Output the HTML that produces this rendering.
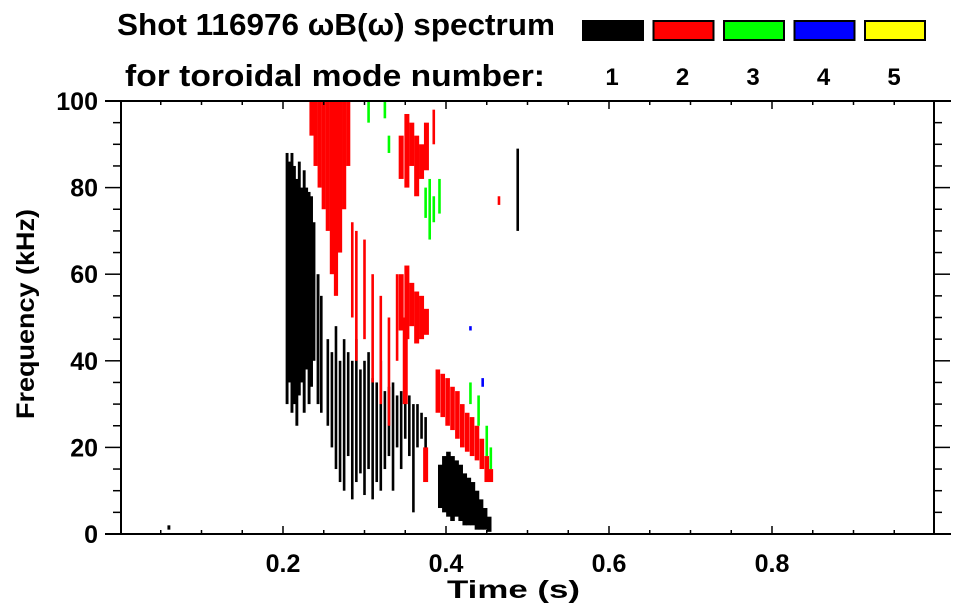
<!DOCTYPE html>
<html><head><meta charset="utf-8">
<style>
html,body{margin:0;padding:0;background:#fff;}
svg{display:block;font-family:"Liberation Sans",Arial,sans-serif;font-weight:bold;}
</style></head>
<body>
<svg id="chart" width="963" height="615" viewBox="0 0 963 615">
  <text x="117" y="35" font-size="31" textLength="438" lengthAdjust="spacingAndGlyphs">Shot 116976 ωB(ω) spectrum</text>
  <text x="125" y="86" font-size="31" textLength="420" lengthAdjust="spacingAndGlyphs">for toroidal mode number:</text>
  <g id="legend"></g>
  <g id="marks"></g>
  <g id="axes"></g>
  <text x="447" y="598" font-size="25" textLength="133" lengthAdjust="spacingAndGlyphs">Time (s)</text>
  <text transform="translate(34,419) rotate(-90)" font-size="25" textLength="210" lengthAdjust="spacingAndGlyphs">Frequency (kHz)</text>
</svg>
<script>
const modeColors = ["#000000","#ff0000","#00ff00","#0000ff","#ffff00"];
const modeLabels = ["1","2","3","4","5"];
const xTickLabels = ["0.2","0.4","0.6","0.8"];
const xTickValues = [0.2,0.4,0.6,0.8];
const yTickValues = [0,20,40,60,80,100];
// streaks: time (s), frequency low (kHz), frequency high (kHz), mode index
const streakTimes = [
0.205,0.208,0.211,0.214,0.217,0.220,0.223,0.226,0.229,0.232,0.235,0.238,0.243,0.247,
0.255,0.260,0.265,0.270,0.275,0.280,0.285,0.290,0.295,0.300,0.305,0.310,0.315,0.320,0.325,0.330,0.335,0.340,0.345,0.350,0.355,0.360,0.365,0.370,0.375,
0.393,0.398,0.403,0.408,0.413,0.418,0.423,0.428,0.433,0.438,0.443,0.448,0.453,
0.488,0.060,
0.235,0.240,0.245,0.250,0.255,0.260,0.265,0.270,0.275,0.280,
0.285,0.290,0.300,0.310,0.320,0.330,0.340,0.350,
0.345,0.352,0.358,0.364,0.370,0.376,0.385,
0.345,0.352,0.358,0.364,0.370,0.376,
0.390,0.396,0.402,0.408,0.414,0.420,0.426,0.432,0.438,0.444,0.450,0.455,0.375,0.465,
0.305,0.325,0.330,0.375,0.380,0.385,0.392,0.430,0.440,0.450,0.455,
0.430,0.445];
const streakLow = [
30,35,28,30,25,32,35,28,38,30,34,40,30,28,
25,20,15,12,10,18,8,12,14,9,15,8,12,10,15,18,10,20,15,22,18,5,20,22,19,
6,5,4,3,4,3,2,2,2,1,1,1,0.5,
70,1,
92,85,80,75,70,60,55,65,75,85,
50,40,45,35,30,25,40,30,
82,80,85,78,82,84,90,
47,45,48,44,45,46,
28,27,25,24,22,20,19,18,17,15,12,12,12,76,
95,96,88,73,68,72,74,30,25,18,15,
47,34];
const streakHigh = [
88,86,88,85,82,86,80,84,80,79,78,72,60,55,
45,42,48,40,45,42,40,45,38,40,42,36,35,40,33,34,35,32,33,35,32,30,30,28,27,
16,18,19,18,17,16,14,13,12,10,8,6,4,
89,2,
100,100,100,100,100,100,100,100,100,100,
72,70,68,60,55,50,60,50,
92,97,95,92,90,95,98,
60,62,58,56,55,52,
38,37,36,34,33,30,28,27,25,22,18,15,20,78,
100,100,92,80,82,78,82,35,32,25,20,
48,36];
const streakMode = [
0,0,0,0,0,0,0,0,0,0,0,0,0,0,
0,0,0,0,0,0,0,0,0,0,0,0,0,0,0,0,0,0,0,0,0,0,0,0,0,
0,0,0,0,0,0,0,0,0,0,0,0,0,
0,0,
1,1,1,1,1,1,1,1,1,1,
1,1,1,1,1,1,1,1,
1,1,1,1,1,1,1,
1,1,1,1,1,1,
1,1,1,1,1,1,1,1,1,1,1,1,1,1,
2,2,2,2,2,2,2,2,2,2,2,
3,3];

const NS="http://www.w3.org/2000/svg";
const L=121,R=934,T=101,B=534;
const xScale=t=>120+t*815;
const yScale=f=>B-(f/100)*(B-T);
function mk(tag,attrs,parent){const e=document.createElementNS(NS,tag);for(const k in attrs)e.setAttribute(k,attrs[k]);parent.appendChild(e);return e;}

// legend
const lg=document.getElementById('legend');
modeColors.forEach((c,i)=>{
  const x=582+i*70.5;
  const r=mk('rect',{x:x+1,y:21,width:60,height:19,fill:c,stroke:'#000','stroke-width':2},lg);
  
  
  const t=mk('text',{x:x+30,y:85,'font-size':24,'text-anchor':'middle'},lg);
  t.textContent=modeLabels[i];
  
  
});

// marks
const mg=document.getElementById('marks');
for(let i=0;i<streakTimes.length;i++){
  const x=xScale(streakTimes[i]);
  const y1=yScale(streakHigh[i]),y2=yScale(streakLow[i]);
  const t=streakTimes[i],m=streakMode[i];
  let w=2.6;
  if(m<2&&t>=0.39&&t<=0.46) w=4.6;
  else if(m===0&&t<0.245) w=2.9;
  else if(m===1&&t<0.285) w=4.2;
  else if(m===1&&t>=0.345&&t<0.38) w=5;
  const r=mk('rect',{x:x-w/2,y:y1,width:w,height:Math.max(1,y2-y1),fill:modeColors[m]},mg);
  
  
}

// axes
const ag=document.getElementById('axes');
const lineAttrs={stroke:'#000','stroke-width':2};
mk('line',Object.assign({x1:105,y1:T,x2:951,y2:T},lineAttrs),ag);
mk('line',Object.assign({x1:105,y1:B,x2:951,y2:B},lineAttrs),ag);
mk('line',Object.assign({x1:L,y1:T,x2:L,y2:B},lineAttrs),ag);
mk('line',Object.assign({x1:R,y1:T,x2:R,y2:B},lineAttrs),ag);
for(let k=1;k<20;k++){
  const t=k*0.05,x=xScale(t),maj=(k%4===0);
  mk('line',{x1:x,y1:B,x2:x,y2:B-(maj?8:4),stroke:'#000','stroke-width':1.5},ag);
  mk('line',{x1:x,y1:T,x2:x,y2:T+(maj?8:4),stroke:'#000','stroke-width':1.5},ag);
}
for(let k=1;k<20;k++){
  const f=k*5,y=yScale(f),maj=(k%4===0);
  mk('line',{x1:L,y1:y,x2:L-(maj?16:8),y2:y,stroke:'#000','stroke-width':1.5},ag);
  mk('line',{x1:R,y1:y,x2:R+(maj?16:8),y2:y,stroke:'#000','stroke-width':1.5},ag);
}
xTickValues.forEach((v,i)=>{
  const t=mk('text',{x:xScale(v),y:572,'font-size':25,'text-anchor':'middle'},ag);
  t.textContent=xTickLabels[i];
  
  
});
yTickValues.forEach(v=>{
  const t=mk('text',{x:98,y:yScale(v)+9,'font-size':25,'text-anchor':'end'},ag);
  t.textContent=String(v);
  
  
});
</script>
</body></html>
